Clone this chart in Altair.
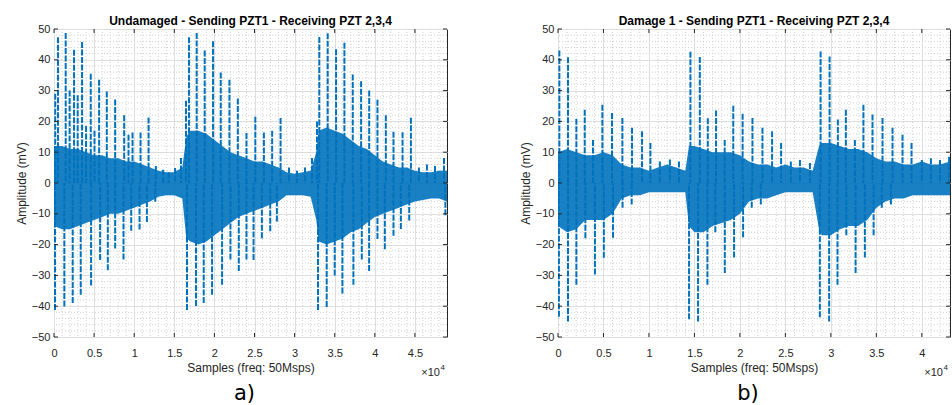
import altair as alt
import pandas as pd

# ---------------- Panel a) Undamaged ----------------
a_up_x = [150, 500, 1458, 1950, 2500, 2950, 3500, 4000, 4583, 5050, 5625, 6583, 7625, 8750, 9290, 9792,
          10790, 11790, 12700, 13600, 14300, 15100, 15830,
          16460, 16830, 17790, 18790, 19830, 20790, 21875, 22920, 24000, 25100, 26170, 27200, 28250,
          29300, 30300, 31300, 32170,
          32790, 33080, 34125, 35170, 36210, 37250, 38290, 39300, 40330, 41375, 42330, 43460, 44500,
          45500, 46500, 47500, 48625]
a_up_y = [29, 47.3, 48.7, 30, 43.3, 28.5, 45.8, 18.5, 35.5, 17, 33.5, 29.7, 27.1, 22.0, 15.7, 16.4,
          16.4, 21.3, 5.5, 4.3, 3.5, 4.9, 8.1,
          26.7, 47.3, 48.7, 43.0, 46.0, 35.9, 33.5, 27.4, 16.2, 21.5, 16.4, 17.0, 21.1,
          5.0, 4.0, 5.0, 8.1,
          20.0, 47.4, 48.6, 43.4, 45.5, 35.2, 33.0, 30.0, 27.0, 22.0, 16.6, 16.5, 21.2,
          5.0, 6.0, 5.5, 8.1]
a_dn_x = [125, 1290, 2333, 3333, 4625, 5750, 6708, 7625, 8667, 9625, 10667, 11583, 12625,
          16583, 17708, 18667, 19708, 20958, 22000, 23040, 24000, 24880, 25920, 26960, 27790,
          32920, 34000, 35000, 35960, 37330, 38375, 39290, 40330, 41250, 42330, 43250, 44290, 48800]
a_dn_y = [-41.2, -40.1, -39.0, -36.3, -33.3, -25.0, -28.3, -21.3, -24.8, -15.5, -15.1, -12.7, -6.1,
          -41.2, -39.9, -39.0, -36.3, -33.0, -24.8, -28.6, -24.8, -25.0, -17.9, -15.7, -12.5,
          -41.2, -40.3, -30.0, -35.9, -33.0, -24.8, -28.6, -18.2, -21.5, -17.1, -14.9, -12.2, -10.5]
a_core_x = [0, 1000, 2000, 3000, 4000, 5000, 6000, 7000, 8000, 9000, 10000, 11000, 12000, 13000, 14000,
            15000, 16000, 16500, 17000, 18000, 19000, 20000, 21000, 22000, 23000, 24000, 25000, 26000,
            27000, 28000, 29000, 30000, 31000, 32000, 32700, 33000, 34000, 35000, 36000, 37000, 38000,
            39000, 40000, 41000, 42000, 43000, 44000, 45000, 46000, 47000, 48000, 49000]
a_core_hi = [12, 12, 11, 11, 10, 9, 9, 8, 8, 7, 7, 6, 5, 4, 3.5, 3.5, 5,
             15,
             17, 17, 16, 14, 12, 10, 9, 8, 7, 7, 6, 5, 3.5, 3, 3.5, 4,
             10,
             17, 18, 17, 16, 14, 12, 11, 9, 7, 6, 5, 5, 4, 3.5, 3.5, 4, 4]
a_core_lo = [-14, -15, -15, -14, -13, -12, -11, -10, -10, -9, -8, -7, -6, -4.5, -4, -4, -5,
             -18,
             -19, -20, -19, -17, -15, -13, -11, -10, -9, -8, -7, -6, -4, -4, -4, -4.5,
             -12,
             -19, -20, -19, -18, -16, -15, -13, -11, -10, -9, -8, -7, -6, -5.5, -5, -5, -6]

# ---------------- Panel b) Damage 1 ----------------
b_up_x = [150, 1100, 2020, 2940, 3850, 4880, 5940, 7080, 8140, 9240, 10160, 11200, 12300, 13300,
          14560, 15590, 16470, 17380, 18330, 19270, 20300, 21380, 22480, 23540, 24530, 25600, 26600, 27700,
          28870, 29860, 30770, 31650, 32640, 33580, 34580, 35680, 36780, 37880, 38870,
          40000, 41000, 42000, 43000]
b_up_y = [43.0, 40.8, 20.9, 23.8, 14.0, 25.4, 22.7, 21.1, 17.9, 16.8, 13.0, 7.0, 7.6, 7.0,
          42.6, 40.9, 21.0, 23.5, 14.0, 25.1, 22.5, 21.1, 17.9, 16.8, 13.0, 7.0, 7.5, 6.5,
          42.7, 41.1, 20.6, 23.8, 14.0, 25.4, 22.2, 21.1, 17.9, 15.7, 13.0,
          7.5, 8.0, 7.5, 8.5]
b_dn_x = [100, 1100, 2020, 3010, 4060, 5040, 6050, 7100, 8100,
          14410, 15400, 16430, 17300, 18340, 19360, 20350, 21300, 22300,
          28790, 29810, 30730, 31700, 32720, 33740, 34700, 35600, 36600]
b_dn_y = [-43.4, -45.0, -33.0, -17.9, -29.7, -24.3, -17.8, -8.0, -7.0,
          -44.2, -45.0, -33.0, -16.0, -29.2, -24.2, -17.6, -8.0, -7.0,
          -43.6, -45.0, -33.0, -17.0, -29.2, -24.2, -17.0, -8.0, -7.0]
b_core_x = [0, 1000, 2000, 3000, 4000, 5000, 6000, 7000, 8000, 9000, 10000, 11000, 12000, 13000, 14000,
            14400, 15000, 16000, 17000, 18000, 19000, 20000, 21000, 22000, 23000, 24000, 25000, 26000,
            27000, 28000, 28700, 29000, 30000, 31000, 32000, 33000, 34000, 35000, 36000, 37000, 38000,
            39000, 40000, 41000, 42000, 43100]
b_core_hi = [10, 11, 10, 9, 9, 10, 9, 6, 5, 5, 4, 5, 6, 5, 4,
             12,
             12, 11, 10, 10, 10, 9, 7, 6, 6, 5, 6, 5, 5, 4,
             12,
             13, 13, 12, 11, 11, 10, 8, 7, 7, 6, 6, 7, 6, 6,
             7]
b_core_lo = [-14, -16, -15, -12, -12, -12, -10, -5, -4, -4, -3, -3, -3, -3, -3,
             -14,
             -16, -16, -14, -13, -12, -10, -6, -5, -5, -4, -3, -3, -3, -3,
             -15,
             -17, -17, -15, -14, -14, -12, -8, -6, -5, -5, -4, -4, -4, -4,
             -4]

y_major = [-50, -40, -30, -20, -10, 0, 10, 20, 30, 40, 50]
a_x_major = [0, 5000, 10000, 15000, 20000, 25000, 30000, 35000, 40000, 45000]
b_x_major = [0, 5000, 10000, 15000, 20000, 25000, 30000, 35000, 40000]

BLUE = "#0072BD"
AXC = "#262626"
FONT = "Liberation Sans"
H = 308


def panel(up_x, up_y, dn_x, dn_y, core_x, core_hi, core_lo, xmax, x_major, title, W, tag):
    xs = alt.Scale(domain=[0, xmax], nice=False, zero=False)
    ys = alt.Scale(domain=[-50, 50], nice=False)
    xaxis = alt.Axis(values=x_major, labelExpr="datum.value / 10000", grid=True,
                     gridColor="#dedede", gridWidth=1, ticks=False, tickSize=0, domain=False,
                     labelPadding=10, title="Samples (freq: 50Msps)", titlePadding=4,
                     labelFlush=False)
    yaxis = alt.Axis(values=y_major, grid=True, gridColor="#dedede", gridWidth=1,
                     ticks=False, tickSize=0, domain=False, labelPadding=4,
                     title="Amplitude (mV)", titlePadding=3)
    X = alt.X("x:Q", scale=xs, axis=xaxis)
    Y = alt.Y("y:Q", scale=ys, axis=yaxis)

    minor_x_vals = [v for v in range(1000, int(xmax), 1000) if v % 5000]
    minor_y_vals = [v for v in range(-48, 50, 2) if v % 10]
    gx = alt.Chart(pd.DataFrame({"x": minor_x_vals})).mark_rule(
        color="#d2d2d2", strokeDash=[1, 2], strokeWidth=1).encode(x=X)
    gy = alt.Chart(pd.DataFrame({"y": minor_y_vals})).mark_rule(
        color="#d2d2d2", strokeDash=[1, 2], strokeWidth=1).encode(y=Y)

    core = alt.Chart(pd.DataFrame({"x": core_x, "y": core_hi, "y2": core_lo})).mark_area(
        color=BLUE, opacity=0.9, clip=True).encode(x=X, y=Y, y2="y2:Q")

    spk = pd.DataFrame({"x": list(up_x) + list(dn_x),
                        "y": list(up_y) + list(dn_y),
                        "y2": [0] * (len(up_x) + len(dn_x))})
    spikes = alt.Chart(spk).mark_rule(color=BLUE, strokeWidth=2, strokeDash=[6, 1.5],
                                      clip=True).encode(x=X, y=Y, y2="y2:Q")

    xt = pd.DataFrame({"x": x_major})
    yt = pd.DataFrame({"y": y_major})
    tk_top = alt.Chart(xt).mark_rule(color=AXC).encode(x=X, y=alt.value(0), y2=alt.value(4))
    tk_bot = alt.Chart(xt).mark_rule(color=AXC).encode(x=X, y=alt.value(H), y2=alt.value(H - 4))
    tk_lft = alt.Chart(yt).mark_rule(color=AXC).encode(y=Y, x=alt.value(0), x2=alt.value(4))
    tk_rgt = alt.Chart(yt).mark_rule(color=AXC).encode(y=Y, x=alt.value(W), x2=alt.value(W - 4))

    one = pd.DataFrame({"k": [0]})
    t_x10 = alt.Chart(one).mark_text(text="×10", align="right", baseline="alphabetic",
                                     font=FONT, fontSize=11, color=AXC).encode(
        x=alt.value(W - 7), y=alt.value(H + 39))
    t_4 = alt.Chart(one).mark_text(text="4", align="left", baseline="alphabetic",
                                   font=FONT, fontSize=8, color=AXC).encode(
        x=alt.value(W - 6.5), y=alt.value(H + 33))
    t_tag = alt.Chart(one).mark_text(text=tag, align="center", baseline="alphabetic",
                                     font="DejaVu Sans", fontSize=21, color="black").encode(
        x=alt.value(W / 2 - 6), y=alt.value(H + 63))

    return alt.layer(gx, gy, core, spikes, tk_top, tk_bot, tk_lft, tk_rgt, t_x10, t_4, t_tag).properties(
        width=W, height=H,
        title=alt.TitleParams(title, fontSize=12, fontWeight="bold", font=FONT, color="black", offset=-5))


pa = panel(a_up_x, a_up_y, a_dn_x, a_dn_y, a_core_x, a_core_hi, a_core_lo, 49000, a_x_major,
           "Undamaged - Sending PZT1 - Receiving PZT 2,3,4", 393, "a)")
pb = panel(b_up_x, b_up_y, b_dn_x, b_dn_y, b_core_x, b_core_hi, b_core_lo, 43100, b_x_major,
           "Damage 1 - Sending PZT1 - Receiving PZT 2,3,4", 392, "b)")

chart = alt.hconcat(pa, pb, spacing=111, bounds="flush").properties(
    padding={"left": 14, "top": 14, "right": 0, "bottom": 0},
).configure_view(stroke=AXC, strokeWidth=1).configure_axis(
    labelFont=FONT, titleFont=FONT, labelFontSize=11, titleFontSize=12,
    labelColor=AXC, titleColor=AXC, titleFontWeight="normal"
).configure_scale(continuousPadding=0)

chart.save("out.html", embed_options={"renderer": "svg", "actions": False})
